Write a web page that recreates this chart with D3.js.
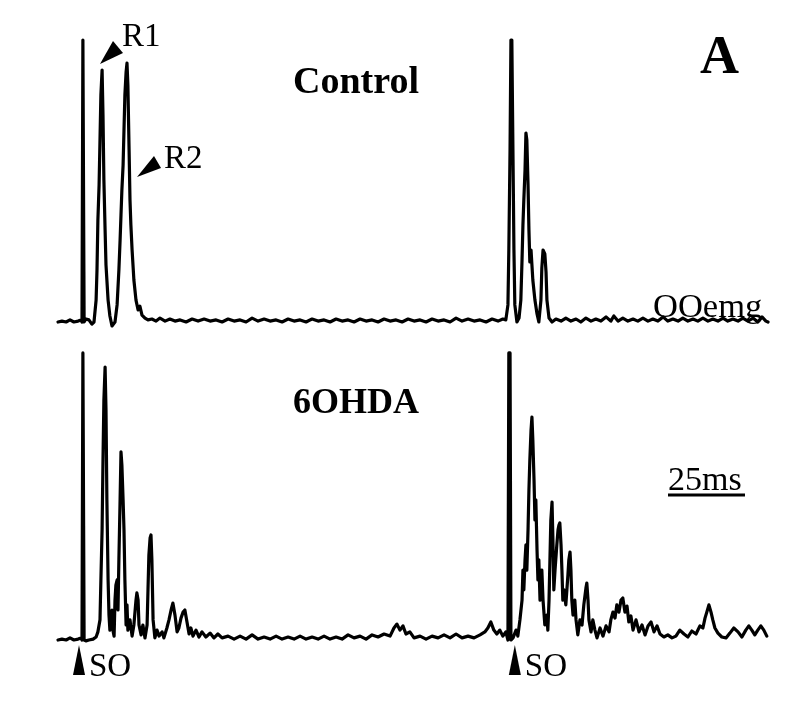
<!DOCTYPE html>
<html lang="en">
<head>
<meta charset="utf-8">
<title>OOemg blink reflex</title>
<script src="https://cdn.jsdelivr.net/npm/d3@7"></script>
<style>
  body { margin: 0; background: #fff; }
  text { font-family: "Liberation Serif", "DejaVu Serif", serif; fill: #000; }
  .trace { fill: none; stroke: #000; stroke-width: 3.2; stroke-linejoin: round; stroke-linecap: round; }
</style>
</head>
<body>
<script>

// traces: [time (ms), amplitude (a.u.)]
var controlTrace = [
  [0,0],[1.3,0.3],[2.7,0],[4,0.7],[5.3,0],[6.7,0.3],[7.7,0.7],[8,0],[8.3,94],[8.7,0],
  [9.3,1],[10.3,0.7],[11.3,-0.7],[12,0],[12.7,7.3],[13,17.3],[13.3,34],[13.7,45.7],[14,60.7],[14.3,75.7],
  [14.7,84],[15,69],[15.3,47.3],[15.7,30.7],[16,19],[16.7,7.3],[17.3,2],[18,-1.3],[19,0],[19.7,5.7],
  [20.3,17.3],[20.7,27.3],[21,35.7],[21.3,44],[21.7,52.3],[22,64],[22.3,75.7],[22.7,83.3],[23,86.3],[23.3,79],
  [23.7,57.3],[24,40.7],[24.3,32.3],[24.7,24],[25.3,14],[26,7.3],[26.7,4],[27.3,5.3],[28,2.3],[29,1.3],
  [30,0.7],[31.3,1],[32.7,0.3],[34,1.3],[35.7,0.3],[37.3,1],[39,0.3],[40.7,0.7],[42.7,0],[44.7,1],
  [46.7,0.3],[48.7,1],[50.7,0.3],[52.7,0.7],[54.7,0],[56.7,1],[58.7,0.3],[60.7,0.7],[62.7,0],[64.7,1.3],
  [66.7,0.3],[68.7,1],[70.7,0.3],[72.7,0.7],[74.7,0],[76.7,1],[78.7,0.3],[80.7,0.7],[82.7,0],[84.7,1],
  [86.7,0.3],[88.7,0.7],[90.7,0],[92.7,1],[94.7,0.3],[96.7,0.7],[98.7,0],[100.7,1],[102.7,0.3],[104.7,0.7],
  [106.7,0],[108.7,1],[110.7,0.3],[112.7,0.7],[114.7,0],[116.7,1],[118.7,0.3],[120.7,0.7],[122.7,0],[124.7,1],
  [126.7,0.3],[128.7,0.7],[130.7,0],[132.7,1.3],[134.7,0.3],[136.7,1],[138.7,0.3],[140.7,0.7],[142.7,0],[144.7,1],
  [146.7,0.3],[148.3,1],[149.3,0.7],[150,5.7],[150.3,24],[150.7,57.3],[151,94],[151.3,94],[151.7,54],[152,24],
  [152.3,5.7],[153,0],[153.7,1.3],[154.3,7.3],[154.7,20.7],[155,32.3],[155.3,40.7],[155.7,50.7],[156,63],[156.3,60.7],
  [156.7,45.7],[157,30.7],[157.3,20],[157.7,24],[158.3,14],[159,7.3],[159.7,2.7],[160.3,0],[161,7.3],[161.3,18],
  [161.7,24],[162.3,22.7],[162.7,16.7],[163,7.3],[163.7,1.3],[164.7,0],[166,1],[167.7,0.3],[169.3,1.3],[171,0.3],
  [172.7,1],[174.3,0],[176,1.3],[177.7,0.3],[179.3,1],[181,0.3],[182.7,1.7],[184.3,0.3],[185.3,2],[186.7,0.3],
  [188.3,1.3],[190,0.3],[191.7,1],[193.3,0.3],[195,1.3],[196.7,0.3],[198.3,1],[200,0.3],[201.7,1.7],[203.3,0.3],
  [205,1],[206.7,0.3],[208.3,1.3],[210,0.3],[211.7,1],[213.3,0.3],[215,1.3],[216.7,0.3],[218.3,1],[220,0.3],
  [221.7,1.3],[223.3,0.3],[225,1],[226.7,0.3],[228.3,1.3],[230,0.3],[231.7,1.3],[233.3,0],[234.7,1.7],[236,0.3],
  [236.7,0]
];

var ohdaTrace = [
  [0,0],[1.3,0.3],[2.7,0],[4,0.7],[5.3,0],[6.7,0.3],[7.7,0.7],[8,0],[8.3,95.7],[8.7,0],
  [9.3,-0.3],[10.3,0],[11.7,0.3],[12.7,1],[13.3,2.7],[14,6.7],[14.3,20],[14.7,36.7],[15,60],[15.3,80],
  [15.7,91],[16,76.7],[16.3,46.7],[16.7,20],[17,8.3],[17.3,3.3],[17.7,5],[18,10],[18.3,3.3],[18.7,1.3],
  [19,13.3],[19.3,18.3],[19.7,20],[20,10],[20.3,26.7],[20.7,46.7],[21,62.7],[21.3,58.3],[21.7,46.7],[22,36.7],
  [22.3,20],[22.7,5],[23,11.7],[23.3,3.3],[24,6.7],[24.7,1.3],[25.3,5],[26,13.3],[26.3,15.7],[26.7,13.3],
  [27,5],[27.7,1.7],[28.3,5],[29,0.7],[29.7,5],[30,16.7],[30.3,28.3],[30.7,34],[31,35],[31.3,26.7],
  [31.7,6.7],[32.3,0.7],[33,3.3],[33.7,1.3],[34.7,2.7],[35.3,0.7],[36.3,4],[37,6.7],[37.7,10],[38.3,12.3],
  [39,8.3],[39.7,2.7],[40.3,4],[41,7.3],[41.7,9.3],[42.3,10],[43,6],[43.7,2],[44.3,4],[45,1.3],
  [46,3.3],[47,1],[48,2.7],[49.3,1],[50.7,2.3],[52,0.7],[53.3,2],[54.7,0.7],[56.7,1.3],[58.7,0.3],
  [60.7,1.3],[62.7,0.3],[64.7,1.7],[66.7,0.3],[68.7,1],[70.7,0.3],[72.7,1.3],[74.7,0.3],[76.7,1],[78.7,0.3],
  [80.7,1.3],[82.7,0.3],[84.7,1],[86.7,0.3],[88.7,1.3],[90.7,0.3],[92.7,1],[94.7,0.3],[96.7,1.7],[98.7,0.7],
  [100.7,1.3],[102.7,0.3],[104.7,1.7],[106.7,1],[108.7,2],[110.7,1.3],[112,4],[113,5.3],[114,3.3],[115,4.7],
  [116,2],[117.3,2.7],[118.7,0.7],[120.7,1.3],[122.7,0.3],[124.7,1.3],[126.7,0.7],[128.7,1.7],[130.7,0.7],[132.7,2],
  [134.7,0.7],[136.7,1.3],[138.7,0.7],[140.7,1.7],[142.3,2.7],[143.3,4],[144.3,6],[145.3,3.3],[146.3,2],[147.3,3.3],
  [148.3,1.3],[149.3,2.7],[150,0],[150.3,95.7],[150.7,95.7],[151,0],[151.7,0.7],[152.7,3.3],[153.3,1.3],[154,6.7],
  [154.7,13.3],[155,23.3],[155.3,16.7],[155.7,26.7],[156,31.7],[156.3,23.3],[156.7,36.7],[157,50],[157.3,60],[157.7,70],
  [158,74.3],[158.3,66.7],[158.7,53.3],[159,40],[159.3,46.7],[159.7,30],[160,20],[160.3,26.7],[160.7,13.3],[161,21.7],
  [161.3,23.3],[161.7,13.3],[162.3,5],[163,8.3],[163.3,3.3],[163.7,13.3],[164,26.7],[164.3,40],[164.7,46],[165,33.3],
  [165.3,16.7],[165.7,23.3],[166.3,31.7],[166.7,36.7],[167,38.3],[167.3,39],[167.7,31.7],[168,23.3],[168.3,13.3],[168.7,16.7],
  [169.3,11.7],[170,21.7],[170.3,26.7],[170.7,29.3],[171,23.3],[171.3,13.3],[171.7,8.3],[172.3,13.3],[172.7,6.7],[173.3,1.7],
  [174,6.7],[174.7,5],[175.3,11.7],[176,17.3],[176.3,19],[176.7,13.3],[177,6.7],[177.7,2.7],[178.3,6.7],[179,3.3],
  [179.7,0.7],[180.7,4],[181.7,1.3],[182.7,4.7],[183.7,2.7],[184.3,6.7],[185,9.3],[185.7,7.3],[186.3,11.7],[187,9.3],
  [187.7,13.3],[188.3,14],[189,9.3],[189.7,11.3],[190.3,6],[191,8],[191.7,3.3],[192.7,6.7],[193.7,2.7],[194.7,5],
  [195.7,1.7],[196.7,4.7],[197.7,6],[198.7,2.7],[199.7,4.7],[200.7,2],[202,1],[203.3,1.7],[204.7,0.7],[206,1.3],
  [207.3,3.3],[208.7,2],[210,1],[211.3,3],[212.7,2],[214,4.7],[215,4],[215.7,7.3],[216.3,9.3],[217,11.7],
  [217.7,9.3],[218.3,6.7],[219,4],[220,2.3],[221.3,1],[222.7,0.7],[224,2.3],[225.3,4],[226.7,2.7],[228,1],
  [229.3,3.3],[230.3,4.7],[231.3,3.3],[232.3,1.7],[233.3,3.3],[234.3,4.7],[235.3,3.3],[236.3,1.3]
];

var panelNames = ["Control", "6OHDA"];
var stimTimes = [7, 152.3];      // SO stimulus markers
var scaleBarMs = 25;

var width = 812, height = 706;

var svg = d3.select("body").append("svg")
    .attr("width", width)
    .attr("height", height);

// slight softening, like the scanned figure
svg.append("defs").append("filter").attr("id", "soft")
  .append("feGaussianBlur").attr("stdDeviation", 0.5);

var x = d3.scaleLinear().domain([0, 236.7]).range([58, 768]);
var yTop = d3.scaleLinear().domain([0, 100]).range([322, 22]);
var yBot = d3.scaleLinear().domain([0, 100]).range([640, 340]);

var g = svg.append("g").attr("filter", "url(#soft)");

function drawTrace(data, y) {
  var line = d3.line()
      .x(function(d) { return x(d[0]); })
      .y(function(d) { return y(d[1]); });
  g.append("path")
      .datum(data)
      .attr("class", "trace")
      .attr("d", line);
}

drawTrace(controlTrace, yTop);
drawTrace(ohdaTrace, yBot);

// panel titles
g.append("text").attr("x", 293).attr("y", 93)
    .attr("font-size", 38).attr("font-weight", "bold").text(panelNames[0]);
g.append("text").attr("x", 293).attr("y", 413)
    .attr("font-size", 36).attr("font-weight", "bold").text(panelNames[1]);

g.append("text").attr("x", 700).attr("y", 73)
    .attr("font-size", 54).attr("font-weight", "bold").text("A");

// R1 / R2 arrows
g.append("path").attr("d", "M100,64 L113,41 L123,53 Z");
g.append("text").attr("x", 122).attr("y", 46).attr("font-size", 33).text("R1");
g.append("path").attr("d", "M137,177 L154,156 L161,168 Z");
g.append("text").attr("x", 164).attr("y", 168).attr("font-size", 33).text("R2");

g.append("text").attr("x", 653).attr("y", 317).attr("font-size", 34.5).text("OOemg");

// scale bar
var barX = 668;
g.append("text").attr("x", barX).attr("y", 490).attr("font-size", 34).text("25ms");
g.append("line")
    .attr("x1", barX).attr("x2", barX + x(scaleBarMs) - x(0) + 2)
    .attr("y1", 495).attr("y2", 495)
    .attr("stroke", "#000").attr("stroke-width", 3);

// stimulus markers
var so = g.selectAll(".so").data(stimTimes).enter().append("g")
    .attr("class", "so")
    .attr("transform", function(d) { return "translate(" + x(d) + ",0)"; });
so.append("path").attr("d", "M0,645 L-6,675 L6,675 Z");
so.append("text").attr("x", 10).attr("y", 676).attr("font-size", 33).text("SO");

</script>
</body>
</html>
